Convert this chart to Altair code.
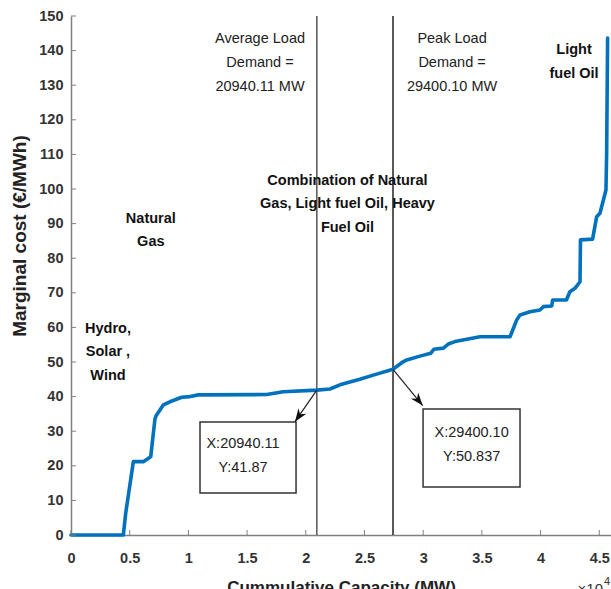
import math
import altair as alt
import pandas as pd

# ---------------- data (capacity in 10^4 MW, cost in EUR/MWh) ----------------
cap_x = [0.0, 0.446, 0.466, 0.531, 0.616, 0.679, 0.715, 0.725, 0.786, 0.843,
         0.943, 1.014, 1.085, 1.667, 1.808, 2.094, 2.206, 2.291, 2.46, 2.575,
         2.743, 2.817, 2.86, 2.973, 3.064, 3.092, 3.172, 3.214, 3.271, 3.484,
         3.74, 3.796, 3.825, 3.91, 3.995, 4.023, 4.095, 4.103, 4.22, 4.25,
         4.293, 4.336, 4.34, 4.443, 4.478, 4.506, 4.557, 4.563, 4.571]
cost_y = [0.0, 0.0, 6.3, 21.2, 21.2, 22.6, 33.5, 34.5, 37.6, 38.5,
          39.8, 40.0, 40.5, 40.6, 41.4, 41.87, 42.2, 43.4, 45.0, 46.2,
          47.9, 49.8, 50.6, 51.7, 52.5, 53.7, 54.0, 55.2, 55.9, 57.3,
          57.3, 62.1, 63.6, 64.5, 65.0, 66.0, 66.2, 67.9, 67.9, 70.3,
          71.3, 73.2, 85.3, 85.5, 92.0, 93.0, 99.7, 110.4, 143.6]

x_ticks = [0, 0.5, 1, 1.5, 2, 2.5, 3, 3.5, 4, 4.5]
y_ticks = list(range(0, 151, 10))

demand_x = [2.094, 2.743]
demand_color = ["#555555", "#222222"]

reg_text = ["Average Load\nDemand =\n20940.11 MW", "Peak Load\nDemand =\n29400.10 MW"]
reg_x = [1.61, 3.246]
reg_y = [142.2, 142.2]

bold_text = ["Light\nfuel Oil",
             "Combination of Natural\nGas, Light fuel Oil, Heavy\nFuel Oil",
             "Natural\nGas", "Hydro,\nSolar ,\nWind"]
bold_x = [4.285, 2.355, 0.68, 0.315]
bold_y = [138.9, 101.2, 90.2, 58.4]

box_x1 = [1.099, 2.999]
box_x2 = [1.917, 3.825]
box_y1 = [12.14, 13.87]
box_y2 = [32.66, 36.42]
box_text = ["X:20940.11\nY:41.87", "X:29400.10\nY:50.837"]
box_tx = [1.465, 3.413]
box_ty = [25.1, 28.3]

arrow_x1 = [2.094, 2.743]
arrow_y1 = [41.87, 47.9]
arrow_x2 = [1.908, 2.996]
arrow_y2 = [32.75, 37.4]

exp_text = ["\u00d710", "4"]
exp_x = [4.315, 4.54]
exp_y = [-17.05, -14.45]
exp_size = [15, 11]

# ---------------- layout ----------------
W, H = 540, 519
XMAX, YMAX = 4.6, 150
FONT = "Liberation Sans"

xs = alt.Scale(domain=[0, XMAX], nice=False, zero=False)
ys = alt.Scale(domain=[0, YMAX], nice=False, zero=False)

x_axis = alt.Axis(values=x_ticks, format=".1~f", grid=False, ticks=False, tickSize=0,
                  domainColor="#808080", domainWidth=1.5, labelOverlap=False,
                  labelFont=FONT, labelFontSize=14.5, labelFontWeight="bold",
                  labelColor="#333333", labelPadding=16, labelFlush=False,
                  title="Cummulative Capacity (MW)", titleFont=FONT, titleFontSize=17,
                  titleFontWeight="bold", titleColor="#222222",
                  titleBaseline="alphabetic", titleY=57)
y_axis = alt.Axis(values=y_ticks, grid=False, ticks=False, tickSize=0,
                  domainColor="#808080", domainWidth=1.5, labelOverlap=False,
                  labelFont=FONT, labelFontSize=14.5, labelFontWeight="bold",
                  labelColor="#333333", labelPadding=8, labelFlush=False,
                  title="Marginal cost (\u20ac/MWh)", titleFont=FONT,
                  titleFontSize=19, titleFontWeight="bold", titleColor="#222222",
                  titleAngle=270, titleBaseline="middle", titleAlign="center",
                  titleX=-52, titleY=219.5)


def X(f):
    return alt.X(f, scale=xs, axis=x_axis)


def Y(f):
    return alt.Y(f, scale=ys, axis=y_axis)


# arrow head angles (from screen direction of each arrow)
px_per_x = W / XMAX
px_per_y = H / YMAX
angles = []
for a, b, c, d in zip(arrow_x1, arrow_y1, arrow_x2, arrow_y2):
    dx = (c - a) * px_per_x
    dy = -(d - b) * px_per_y
    angles.append((math.degrees(math.atan2(dx, -dy)) + 360) % 360)

curve_df = pd.DataFrame({"x": cap_x, "y": cost_y})
demand_df = pd.DataFrame({"x": demand_x, "c": demand_color, "y0": [0, 0], "y1": [YMAX, YMAX]})
reg_df = pd.DataFrame({"t": reg_text, "x": reg_x, "y": reg_y})
bold_df = pd.DataFrame({"t": bold_text, "x": bold_x, "y": bold_y})
box_df = pd.DataFrame({"x1": box_x1, "x2": box_x2, "y1": box_y1, "y2": box_y2,
                       "t": box_text, "tx": box_tx, "ty": box_ty})
arrow_df = pd.DataFrame({"x1": arrow_x1, "y1": arrow_y1, "x2": arrow_x2, "y2": arrow_y2,
                         "a": angles})
xt_df = pd.DataFrame({"x": x_ticks})
yt_df = pd.DataFrame({"y": y_ticks})
exp_df = pd.DataFrame({"t": exp_text, "x": exp_x, "y": exp_y, "s": exp_size})

demand = alt.Chart(demand_df).mark_rule(strokeWidth=1.5).encode(
    x=X("x:Q"), y=Y("y0:Q"), y2="y1:Q",
    color=alt.Color("c:N", scale=None),
)

curve = alt.Chart(curve_df).mark_line(color="#0072BD", strokeWidth=3.6,
                                      strokeJoin="round", strokeCap="round").encode(
    x=X("x:Q"), y=Y("y:Q"))

boxes = alt.Chart(box_df).mark_rect(fill="white", stroke="#333333", strokeWidth=1.5).encode(
    x=X("x1:Q"), x2="x2:Q", y=Y("y1:Q"), y2="y2:Q")

box_txt = alt.Chart(box_df).mark_text(font=FONT, fontSize=14.5, lineBreak="\n",
                                      lineHeight=24, align="center", baseline="alphabetic",
                                      color="#222222").encode(
    x=X("tx:Q"), y=Y("ty:Q"), text="t:N")

arrow_line = alt.Chart(arrow_df).mark_rule(color="#222222", strokeWidth=1.2).encode(
    x=X("x1:Q"), y=Y("y1:Q"), x2="x2:Q", y2="y2:Q")

arrow_head = alt.Chart(arrow_df).mark_point(
    shape="M0,0 L0.7,1.9 L0,1.3 L-0.7,1.9 Z", filled=True, color="#111111",
    size=190, opacity=1).encode(
    x=X("x2:Q"), y=Y("y2:Q"),
    angle=alt.Angle("a:Q", scale=None))

reg = alt.Chart(reg_df).mark_text(font=FONT, fontSize=14.5, lineBreak="\n", lineHeight=24,
                                  align="center", baseline="alphabetic",
                                  color="#222222").encode(
    x=X("x:Q"), y=Y("y:Q"), text="t:N")

bold = alt.Chart(bold_df).mark_text(font=FONT, fontSize=14.5, fontWeight="bold",
                                    lineBreak="\n", lineHeight=23.5, align="center",
                                    baseline="alphabetic", color="#111111").encode(
    x=X("x:Q"), y=Y("y:Q"), text="t:N")

xt = alt.Chart(xt_df).mark_rule(color="#808080", strokeWidth=1).encode(
    x=X("x:Q"), y=alt.value(H), y2=alt.value(H - 5))
yt = alt.Chart(yt_df).mark_rule(color="#808080", strokeWidth=1).encode(
    y=Y("y:Q"), x=alt.value(0), x2=alt.value(5))

expo = alt.Chart(exp_df).mark_text(font=FONT, color="#333333", clip=False,
                                   baseline="alphabetic", align="left").encode(
    x=X("x:Q"), y=Y("y:Q"), text="t:N",
    size=alt.Size("s:Q", scale=None, legend=None))

chart = alt.layer(
    demand, curve, boxes, arrow_line, arrow_head, box_txt, reg, bold, xt, yt, expo
).properties(
    width=W, height=H,
    autosize=alt.AutoSizeParams(type="none"),
    padding={"left": 71, "top": 16, "right": 0, "bottom": 54},
    background="white",
).configure_view(stroke=None)

chart.save("out.html", embed_options={"renderer": "svg", "actions": False})
